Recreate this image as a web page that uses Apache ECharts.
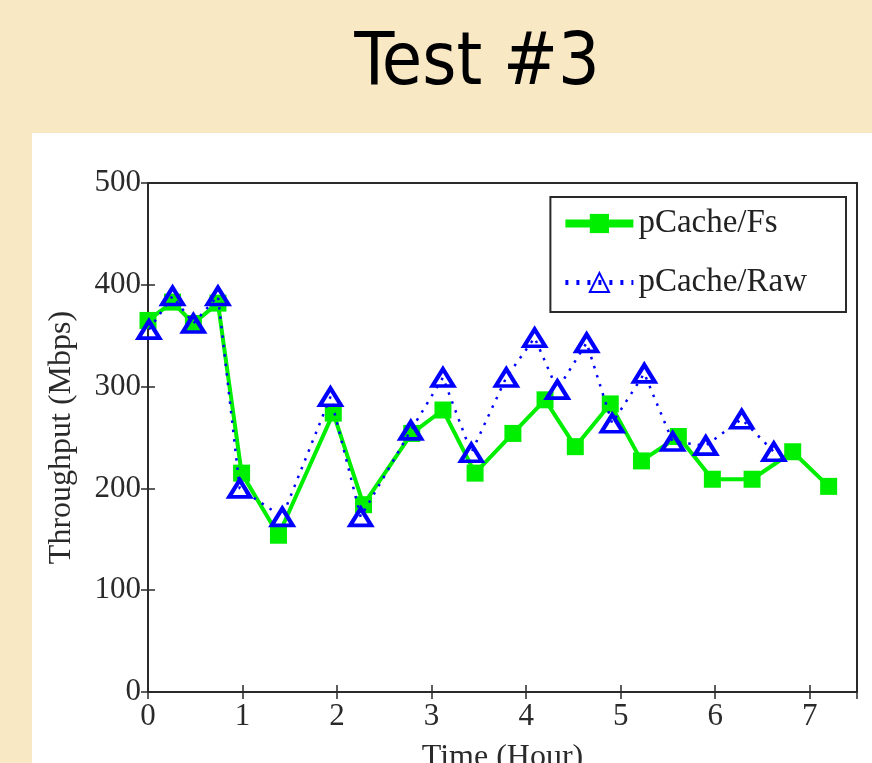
<!DOCTYPE html>
<html><head><meta charset="utf-8">
<script src="https://cdn.jsdelivr.net/npm/echarts@6/dist/echarts.min.js"></script>
<style>html,body{margin:0;padding:0;background:#f8e8c4;}#c{width:872px;height:763px;}</style>
</head><body><div id="c"></div>
<script>
const fsTime = [0, 0.26, 0.48, 0.74, 0.99, 1.38, 1.96, 2.28, 2.79, 3.12, 3.46, 3.86, 4.20, 4.52, 4.89, 5.22, 5.61, 5.97, 6.39, 6.82, 7.20];
const fsValue = [365, 383, 362, 382, 215, 154, 274, 184, 254, 277, 215, 254, 287, 241, 283, 227, 251, 209, 209, 236, 202];
const rawTime = [0.01, 0.26, 0.48, 0.74, 0.97, 1.42, 1.93, 2.25, 2.78, 3.12, 3.42, 3.79, 4.09, 4.33, 4.64, 4.91, 5.25, 5.55, 5.90, 6.28, 6.62];
const rawValue = [356, 389, 362, 389, 200, 172, 290, 172, 257, 309, 235, 309, 348, 297, 343, 264, 313, 246, 242, 268, 236];
const seriesNames = ['pCache/Fs', 'pCache/Raw'];
const titleText = 'Test #3';
const xName = 'Time (Hour)';
const yName = 'Throughput (Mbps)';

const serif = 'Liberation Serif';
const ink = '#2a2a2a';
const chart = echarts.init(document.getElementById('c'));
chart.setOption({
  backgroundColor: '#f8e8c4',
  animation: false,
  title: { text: titleText, left: 472, textAlign: 'center', top: 24,
    textStyle: { fontFamily: 'DejaVu Sans Condensed', fontSize: 73, fontWeight: 'normal', color: '#000' } },
  graphic: [{ type: 'rect', shape: { x: 32, y: 133, width: 840, height: 630 }, style: { fill: '#ffffff' }, z: -10 }],
  grid: { left: 148, right: 15, top: 183, bottom: 71, show: true, borderColor: ink, borderWidth: 2,
    backgroundColor: 'transparent', containLabel: false, outerBoundsMode: 'none' },
  legend: {
    right: 26, top: 197, orient: 'vertical', itemWidth: 68, itemHeight: 24, itemGap: 26,
    backgroundColor: '#fff', borderColor: ink, borderWidth: 2, padding: [10, 39, 13, 11],
    textStyle: { fontFamily: serif, fontSize: 33, color: '#222' },
    data: [
      { name: seriesNames[0], lineStyle: { width: 8, color: '#00ee00' } },
      { name: seriesNames[1], lineStyle: { width: 5, color: '#0000ff', type: [3, 8] } }
    ]
  },
  xAxis: [{
    type: 'value', min: 0, max: 7.5, interval: 1, name: xName, nameLocation: 'middle', nameGap: 50,
    nameTextStyle: { fontFamily: serif, fontSize: 32, color: ink },
    axisLine: { show: true, lineStyle: { color: ink, width: 2 } },
    axisTick: { show: true, inside: true, length: 7, lineStyle: { color: ink, width: 1.5 } },
    axisLabel: { fontFamily: serif, fontSize: 31, color: ink, margin: 9, showMaxLabel: false },
    splitLine: { show: false }
  }, {
    type: 'value', position: 'top', min: 0, max: 7.5, interval: 1,
    axisLine: { show: true, lineStyle: { color: ink, width: 2 } },
    axisTick: { show: true, inside: true, length: 7, lineStyle: { color: ink, width: 1.5 } },
    axisLabel: { show: false }, splitLine: { show: false }
  }],
  yAxis: [{
    type: 'value', min: 0, max: 500, interval: 100, name: yName, nameLocation: 'middle', nameGap: 70,
    nameTextStyle: { fontFamily: serif, fontSize: 32, color: ink },
    axisLine: { show: true, lineStyle: { color: ink, width: 2 } },
    axisTick: { show: true, inside: true, length: 7, lineStyle: { color: ink, width: 1.5 } },
    axisLabel: { fontFamily: serif, fontSize: 31, color: ink, margin: 7 },
    splitLine: { show: false }
  }, {
    type: 'value', position: 'right', min: 0, max: 500, interval: 100,
    axisLine: { show: true, lineStyle: { color: ink, width: 2 } },
    axisTick: { show: true, inside: true, length: 7, lineStyle: { color: ink, width: 1.5 } },
    axisLabel: { show: false }, splitLine: { show: false }
  }],
  series: [{
    name: seriesNames[0], type: 'line', data: fsTime.map((t, i) => [t, fsValue[i]]),
    symbol: 'rect', symbolSize: 17, z: 2,
    lineStyle: { color: '#00ee00', width: 4 },
    itemStyle: { color: '#00ee00', borderColor: '#00ee00', borderWidth: 0 }
  }, {
    name: seriesNames[1], type: 'line', data: rawTime.map((t, i) => [t, rawValue[i]]),
    symbol: 'triangle', symbolSize: [21, 17], z: 3,
    lineStyle: { color: '#0000ff', width: 2.5, type: [2.5, 7] },
    itemStyle: { color: 'rgba(255,255,255,0)', borderColor: '#0000ff', borderWidth: 4 }
  }]
});
</script></body></html>
